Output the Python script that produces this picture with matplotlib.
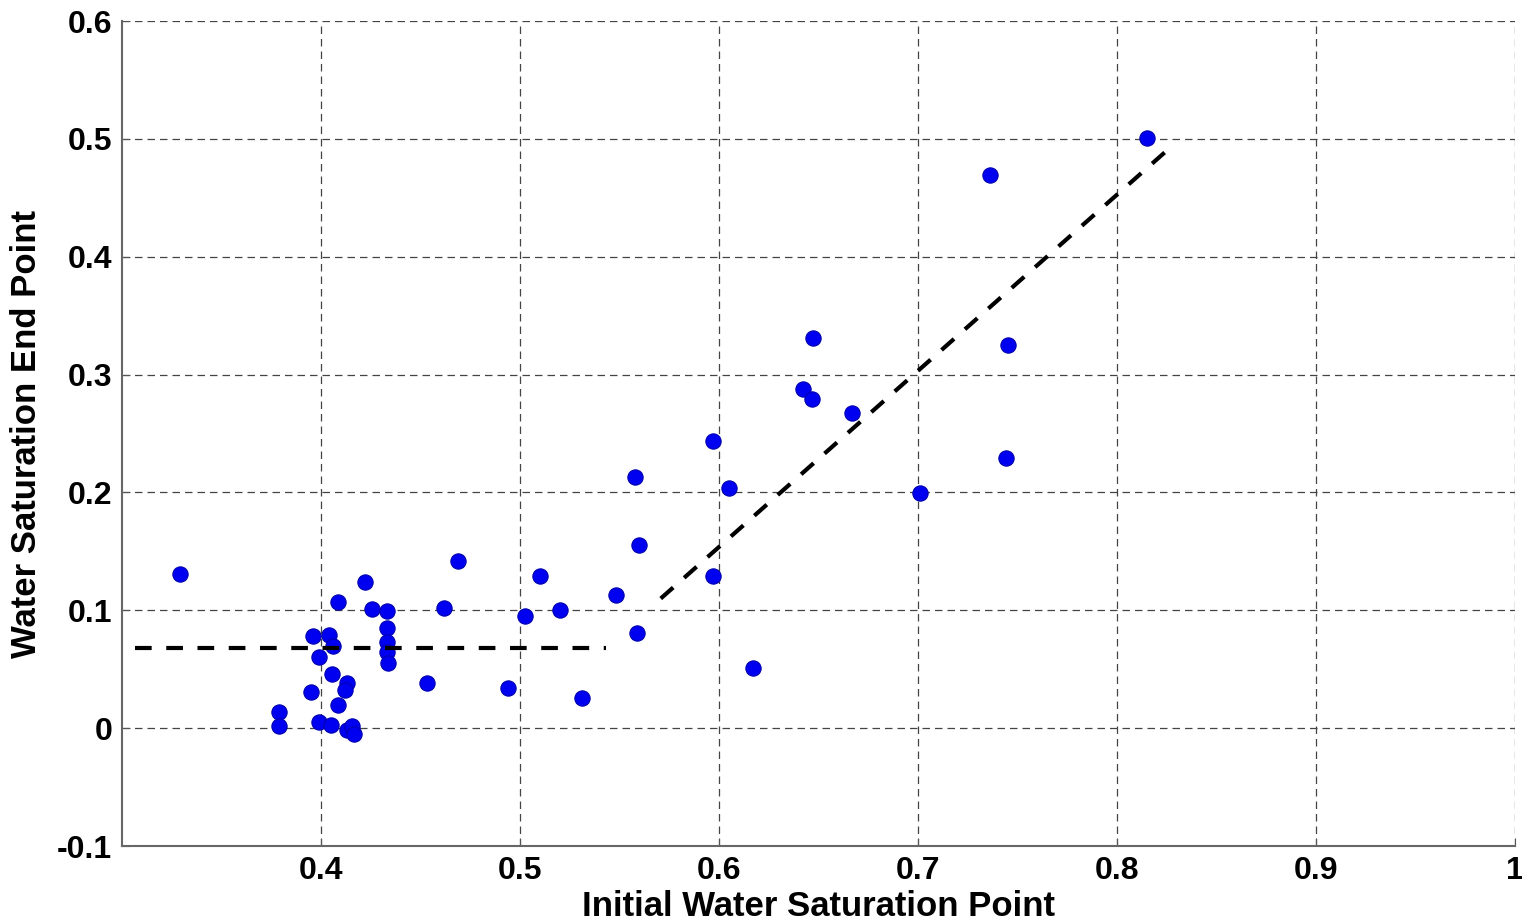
import matplotlib
matplotlib.use("Agg")
import matplotlib.pyplot as plt
import numpy as np

# scatter data
swi = [0.329, 0.422, 0.469, 0.4085, 0.4255, 0.433, 0.462, 0.510, 0.520, 0.5026,
       0.548, 0.433, 0.396, 0.404, 0.406, 0.433, 0.433, 0.4336, 0.399, 0.4057,
       0.413, 0.412, 0.395, 0.4085, 0.453, 0.494, 0.531, 0.379, 0.379, 0.399,
       0.405, 0.413, 0.4156, 0.4167, 0.558, 0.5597, 0.5587, 0.597, 0.597, 0.605,
       0.617, 0.642, 0.6465, 0.647, 0.667, 0.7008, 0.736, 0.7454, 0.7444, 0.815]
sw_end = [0.131, 0.124, 0.142, 0.107, 0.101, 0.099, 0.102, 0.129, 0.100, 0.095,
          0.113, 0.085, 0.078, 0.079, 0.070, 0.073, 0.065, 0.055, 0.060, 0.046,
          0.0385, 0.032, 0.031, 0.0195, 0.038, 0.034, 0.026, 0.0136, 0.002, 0.0054,
          0.003, -0.0017, 0.0015, -0.005, 0.213, 0.155, 0.081, 0.244, 0.129, 0.204,
          0.051, 0.288, 0.279, 0.331, 0.267, 0.1993, 0.469, 0.325, 0.229, 0.501]

# fitted trend segments
fit1_x = [0.3066, 0.5430]
fit1_y = [0.068, 0.068]
fit2_x = [0.5707, 0.8243]
fit2_y = [0.110, 0.489]

xticks = [0.4, 0.5, 0.6, 0.7, 0.8, 0.9, 1.0]
xticklabels = ["0.4", "0.5", "0.6", "0.7", "0.8", "0.9", "1"]
yticks = [-0.1, 0, 0.1, 0.2, 0.3, 0.4, 0.5, 0.6]
yticklabels = ["-0.1", "0", "0.1", "0.2", "0.3", "0.4", "0.5", "0.6"]

plt.rcParams["font.family"] = ["Liberation Sans", "DejaVu Sans"]
plt.rcParams["font.weight"] = "bold"

fig = plt.figure(figsize=(15.22, 9.22), dpi=100)
ax = fig.add_axes([0.0802, 0.0824, 0.9152, 0.8948])

ax.plot(swi, sw_end, "o", color="#0000f0", markeredgecolor="#0000b0",
        markeredgewidth=0.8, markersize=11, zorder=3)
ax.plot(fit1_x, fit1_y, "--", color="black", linewidth=3, dashes=(4, 3.5), zorder=4)
ax.plot(fit2_x, fit2_y, "--", color="black", linewidth=3, dashes=(4, 3.5), zorder=4)

ax.set_xlim(0.3, 1.0)
ax.set_ylim(-0.1, 0.6)
ax.set_xticks(xticks)
ax.set_xticklabels(xticklabels)
ax.set_yticks(yticks)
ax.set_yticklabels(yticklabels)
ax.tick_params(direction="in", length=6, labelsize=23, color="#555555", pad=7)

ax.grid(True, linestyle=(0, (6, 4)), color="#444444", linewidth=0.9)
ax.set_axisbelow(True)
for side in ["top", "right"]:
    ax.spines[side].set_visible(False)
for side in ["left", "bottom"]:
    ax.spines[side].set_color("#666666")
    ax.spines[side].set_linewidth(1.5)

ax.set_xlabel("Initial Water Saturation Point", fontsize=25, fontweight="bold", labelpad=3)
ax.set_ylabel("Water Saturation End Point", fontsize=25, fontweight="bold", labelpad=10)

fig.savefig("out.png", dpi=100)
